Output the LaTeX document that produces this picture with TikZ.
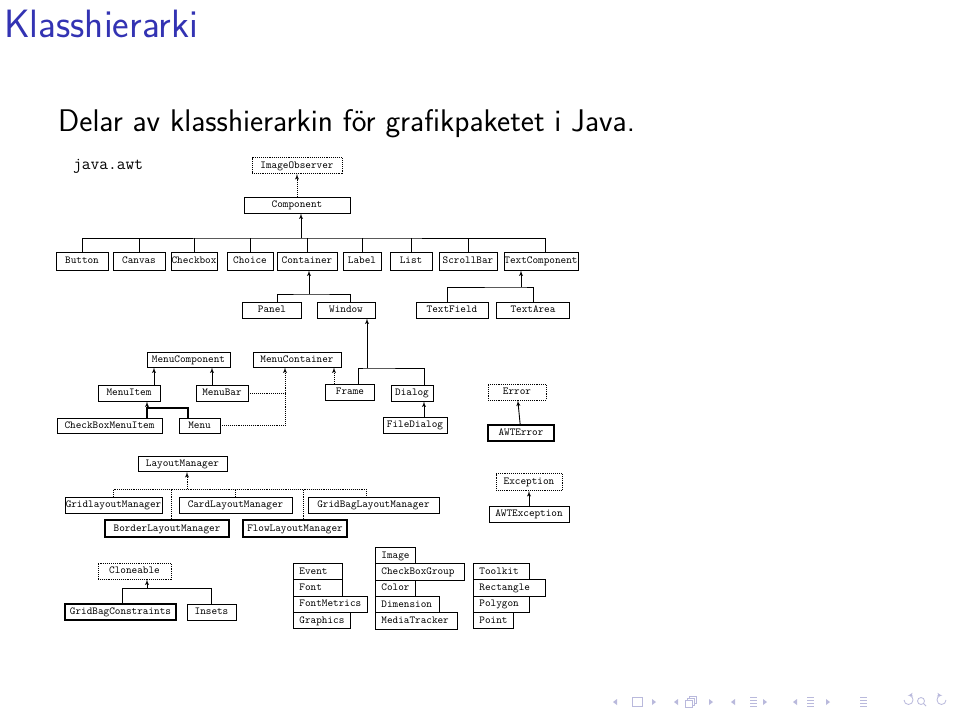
\documentclass[tikz,border=0pt]{standalone}
\usetikzlibrary{arrows,positioning,calc}
\definecolor{titleblue}{RGB}{51,51,179}
\definecolor{navgray}{RGB}{185,185,220}

\begin{document}
\begin{tikzpicture}[x=1pt,y=-1pt]
\tikzstyle{cls} = [rectangle, draw, line width=0.9pt, font=\fontsize{10.7}{12}\ttfamily, inner sep=0pt, minimum height=16pt, text height=7.5pt, text depth=2.2pt]
\tikzstyle{iface} = [cls, densely dotted]
\tikzstyle{heavy} = [cls, line width=1.5pt]
\tikzstyle{stk} = [cls, align=left, inner xsep=6pt, minimum height=16.3pt]
\tikzstyle{line} = [draw, line width=0.9pt, -latex']
\tikzstyle{impl} = [draw, line width=0.9pt, densely dotted]

\path[use as bounding box, fill=white] (0,0) rectangle (960,718);

% slide heading
\node[anchor=base west, inner sep=0pt, text=titleblue, font=\fontsize{39.5}{42}\sffamily] (title) at (4,37) {Klasshierarki};
\node[anchor=base west, inner sep=0pt, font=\fontsize{31.3}{34}\sffamily] (intro) at (58,131) {Delar av klasshierarkin för grafikpaketet i Java.};
\node[anchor=base west, inner sep=0pt, font=\fontsize{17}{18}\ttfamily] (pkg) at (73,169) {java.awt};

% Component tree
\node[iface, minimum width=90pt] (imgobs) at (297,165.5) {ImageObserver};
\node[cls, minimum width=106pt] (comp) at (297,205) {Component};

\node[cls, minimum width=52pt, minimum height=18pt] (button) at (82,261) {Button};
\node[cls, minimum width=52pt, minimum height=18pt] (canvas) at (139,261) {Canvas};
\node[cls, minimum width=46pt, minimum height=18pt] (checkbox) at (194,261) {Checkbox};
\node[cls, minimum width=46pt, minimum height=18pt] (choice) at (250,261) {Choice};
\node[cls, minimum width=60pt, minimum height=18pt] (container) at (307,261) {Container};
\node[cls, minimum width=38pt, minimum height=18pt] (label) at (362,261) {Label};
\node[cls, minimum width=42pt, minimum height=18pt] (list) at (411,261) {List};
\node[cls, minimum width=58pt, minimum height=18pt] (scrollbar) at (468,261) {ScrollBar};
\node[cls, minimum width=74pt, minimum height=18pt] (textcomp) at (541,261) {TextComponent};

\node[cls, minimum width=59pt] (panel) at (272,310) {Panel};
\node[cls, minimum width=58pt] (window) at (346,310) {Window};
\node[cls, minimum width=72pt] (textfield) at (452,310) {TextField};
\node[cls, minimum width=73pt] (textarea) at (533,310) {TextArea};

\node[cls, minimum width=49pt] (frame) at (350,392) {Frame};
\node[cls, minimum width=42pt] (dialog) at (412,393) {Dialog};
\node[cls, minimum width=64pt] (filedialog) at (415,425) {FileDialog};

% menus
\node[cls, minimum width=83pt, minimum height=15pt] (menucomp) at (188.5,359.5) {MenuComponent};
\node[cls, minimum width=88pt, minimum height=15pt] (menucont) at (297,359.5) {MenuContainer};
\node[cls, minimum width=62pt] (menuitem) at (129,393) {MenuItem};
\node[cls, minimum width=52pt] (menubar) at (222,393) {MenuBar};
\node[cls, minimum width=105pt, minimum height=15pt] (cbmenuitem) at (109.5,425.5) {CheckBoxMenuItem};
\node[cls, minimum width=41pt, minimum height=15pt] (menu) at (199.5,425.5) {Menu};

% errors and exceptions
\node[iface, minimum width=58pt] (error) at (517,392) {Error};
\node[heavy, minimum width=66pt] (awterror) at (521,433) {AWTError};
\node[iface, minimum width=66pt, minimum height=17pt] (exception) at (529,482) {Exception};
\node[cls, minimum width=80pt] (awtexc) at (529,514) {AWTException};

% layout managers
\node[cls, minimum width=89pt, minimum height=15pt] (layout) at (182.5,464) {LayoutManager};
\node[cls, minimum width=97pt] (gridlm) at (113.5,505) {GridlayoutManager};
\node[cls, minimum width=113pt] (cardlm) at (235.5,505) {CardLayoutManager};
\node[cls, minimum width=131pt] (gridbaglm) at (373.5,505) {GridBagLayoutManager};
\node[heavy, minimum width=124pt, minimum height=17pt] (borderlm) at (167,528.5) {BorderLayoutManager};
\node[heavy, minimum width=104pt, minimum height=17pt] (flowlm) at (295,528.5) {FlowLayoutManager};

% cloneable
\node[iface, minimum width=73pt] (cloneable) at (134.5,571) {Cloneable};
\node[heavy, minimum width=111pt] (gbc) at (120.5,612) {GridBagConstraints};
\node[cls, minimum width=49pt] (insets) at (211.5,612) {Insets};

% loose classes
\node[stk, text width=37pt, anchor=north west] (event) at (293,563) {Event};
\node[stk, text width=37pt, below right=-0.9pt and 0pt of event.south west] (font) {Font};
\node[stk, text width=62pt, below right=-0.9pt and 0pt of font.south west] (fontmetrics) {FontMetrics};
\node[stk, text width=45pt, below right=-0.9pt and 0pt of fontmetrics.south west] (graphics) {Graphics};

\node[stk, text width=28pt, anchor=north west] (image) at (375,547) {Image};
\node[stk, text width=77pt, below right=-0.9pt and 0pt of image.south west] (cbgroup) {CheckBoxGroup};
\node[stk, text width=28pt, below right=-0.9pt and 0pt of cbgroup.south west] (color) {Color};
\node[stk, text width=52pt, below right=-0.9pt and 0pt of color.south west] (dimension) {Dimension};
\node[stk, text width=70pt, below right=-0.9pt and 0pt of dimension.south west] (mediatracker) {MediaTracker};

\node[stk, text width=44pt, anchor=north west] (toolkit) at (473,563) {Toolkit};
\node[stk, text width=60pt, below right=-0.9pt and 0pt of toolkit.south west] (rectangle) {Rectangle};
\node[stk, text width=44pt, below right=-0.9pt and 0pt of rectangle.south west] (polygon) {Polygon};
\node[stk, text width=28pt, below right=-0.9pt and 0pt of polygon.south west] (point) {Point};

% connectors
\coordinate (compbus) at (301,238);
\coordinate (contbus) at (309,294);
\coordinate (textbus) at (521,287);
\coordinate (winbus) at (367,368);
\coordinate (menubus) at (147,408);
\coordinate (layoutbus) at (187,489);
\coordinate (clonebus) at (147,588);

\path [impl, -latex'] (comp) -- (imgobs);
\draw[line width=0.9pt] (button.north) |- (compbus) -| ([xshift=4pt]textcomp.north);
\foreach \c in {canvas,checkbox,choice,container,label,list,scrollbar}
  \draw[line width=0.9pt] (\c.north) -- (\c.north |- compbus);
\path [line] (compbus) -- (compbus |- comp.south);

\draw[line width=0.9pt] ([xshift=5pt]panel.north) |- (contbus) -| ([xshift=4pt]window.north);
\path [line] (contbus) -- (contbus |- container.south);

\draw[line width=0.9pt] ([xshift=-5pt]textfield.north) |- (textbus) -| (textarea.north);
\path [line] (textbus) -- (textbus |- textcomp.south);

\draw[line width=0.9pt] ([xshift=8pt]frame.north) |- (winbus) -| ([xshift=12pt]dialog.north);
\path [line] (winbus) -- (winbus |- window.south);
\path [line] ([xshift=9pt]filedialog.north) -- ([xshift=12pt]dialog.south);

\path [line] ([xshift=25pt]menuitem.north) -- ([xshift=25pt]menuitem.north |- menucomp.south);
\path [line] ([xshift=-10pt]menubar.north) -- ([xshift=-10pt]menubar.north |- menucomp.south);
\draw[line width=1.3pt] (menubus |- cbmenuitem.north) -- (menubus) -| ([xshift=-11.5pt]menu.north);
\path [line] (menubus) -- (menubus |- menuitem.south);
\path [impl] (menubar.east) -- ([xshift=-12pt]menucont.south |- menubar.east);
\path [impl, -latex'] (menu.east) -| ([xshift=-12pt]menucont.south);
\path [impl, -latex'] ([xshift=-16pt]frame.north) -- ([xshift=-16pt]frame.north |- menucont.south);

\path [line] (awterror) -- (error);
\path [line] (awtexc) -- (exception);

\path [impl] (gridlm.north) |- (layoutbus) -| ([xshift=-7.5pt]gridbaglm.north);
\path [impl] (cardlm.north) -- (cardlm.north |- layoutbus);
\path [impl] ([xshift=4pt]borderlm.north) -- ([xshift=4pt]borderlm.north |- layoutbus);
\path [impl] ([xshift=8pt]flowlm.north) -- ([xshift=8pt]flowlm.north |- layoutbus);
\path [impl, -latex'] (layoutbus) -- (layoutbus |- layout.south);

\draw[line width=0.9pt] ([xshift=1.5pt]gbc.north) |- (clonebus) -| (insets.north);
\path [line] (clonebus) -- (clonebus |- cloneable.south);

% navigation symbols
\begin{scope}[navgray, line width=0.8pt, yshift=-3pt]
\fill (613,699) -- (617,696) -- (617,702) -- cycle;
\draw (632,694.5) rectangle (642,703.5);
\fill (656,699) -- (652,696) -- (652,702) -- cycle;
\fill (674,699) -- (678,696) -- (678,702) -- cycle;
\draw (685,697) rectangle (692,704);
\draw (687,697) -- (687,695) -- (694,695) -- (694,702) -- (692,702);
\draw (689,695) -- (689,693) -- (696,693) -- (696,700) -- (694,700);
\fill (713,699) -- (709,696) -- (709,702) -- cycle;
\fill (731,699) -- (735,696) -- (735,702) -- cycle;
\foreach \yy in {694,697,700,703} \draw (750,\yy) -- (757,\yy);
\fill (767,699) -- (763,696) -- (763,702) -- cycle;
\fill (793,699) -- (797,696) -- (797,702) -- cycle;
\foreach \yy in {694,697,700,703} \draw (807,\yy) -- (814,\yy);
\fill (830,699) -- (826,696) -- (826,702) -- cycle;
\foreach \yy in {694,697,700,703} \draw (860,\yy) -- (867,\yy);
\draw[-latex'] (904,697) arc[start angle=180, end angle=-100, radius=4.5];
\draw (921,698) circle[radius=3.5];
\draw (923.5,700.5) -- (926,703);
\draw[-latex'] (946,697) arc[start angle=0, end angle=280, radius=4.5];
\end{scope}
\end{tikzpicture}
\end{document}
